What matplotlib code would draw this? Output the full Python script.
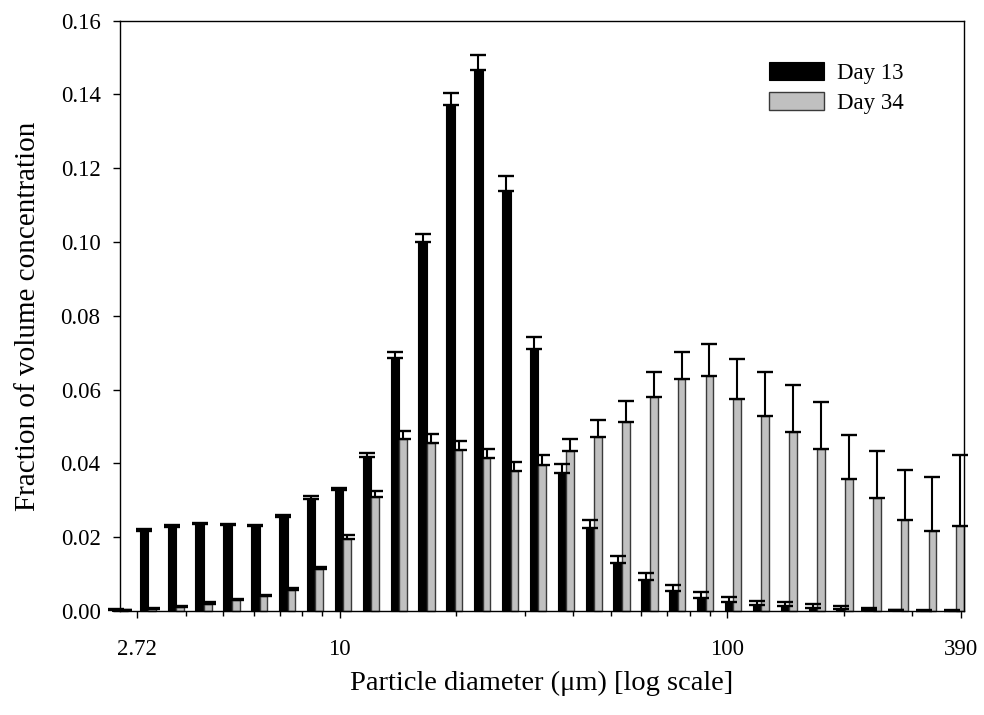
import numpy as np
import matplotlib
matplotlib.use("Agg")
import matplotlib.pyplot as plt
from matplotlib.ticker import FixedLocator, NullFormatter

# LISST size bins (geometric centres, um)
bins = 2.5 * (200 ** (1 / 32)) ** (np.arange(31) + 0.5)

day13 = [0.0003, 0.0218, 0.0229, 0.0236, 0.0234, 0.0231, 0.0255, 0.0304, 0.0328, 0.0418,
         0.0685, 0.1001, 0.1372, 0.1466, 0.1139, 0.0711, 0.0375, 0.0225, 0.0131, 0.0084,
         0.0054, 0.0036, 0.0024, 0.0015, 0.0014, 0.0009, 0.0005, 0.0004, 0.0002, 0.0001, 0.0001]
day13_err = [0.0003, 0.0004, 0.0003, 0.0003, 0.0003, 0.0003, 0.0004, 0.0008, 0.0006, 0.0010,
             0.0016, 0.0022, 0.0032, 0.0040, 0.0039, 0.0032, 0.0024, 0.0021, 0.0019, 0.0018,
             0.0016, 0.0015, 0.0015, 0.0013, 0.0011, 0.0010, 0.0009, 0.0005, 0.0002, 0.0001, 0.0001]
day34 = [0.0002, 0.0005, 0.0012, 0.0020, 0.0030, 0.0040, 0.0057, 0.0113, 0.0196, 0.0310,
         0.0465, 0.0456, 0.0436, 0.0415, 0.0380, 0.0397, 0.0433, 0.0471, 0.0512, 0.0579,
         0.0629, 0.0638, 0.0575, 0.0529, 0.0486, 0.0438, 0.0359, 0.0307, 0.0247, 0.0217, 0.0230]
day34_err = [0.0002, 0.0004, 0.0002, 0.0004, 0.0003, 0.0003, 0.0005, 0.0006, 0.0010, 0.0016,
             0.0024, 0.0024, 0.0026, 0.0024, 0.0024, 0.0027, 0.0034, 0.0046, 0.0057, 0.0069,
             0.0072, 0.0086, 0.0107, 0.0120, 0.0126, 0.0128, 0.0118, 0.0128, 0.0134, 0.0147, 0.0192]

xtick_pos = [3, 10, 100, 400]
xtick_labels = ["2.72", "10", "100", "390"]

plt.rcParams['font.family'] = ['Liberation Serif', 'DejaVu Serif']

fig = plt.figure(figsize=(9.84, 7.15), dpi=100)
ax = fig.add_axes([120 / 984, 104 / 715, 844 / 984, 590.3 / 715])

px_per_dec = 387.3
db = 10 ** (8.5 / px_per_dec)
dg = 10 ** (7.7 / px_per_dec)

left_b = bins / db
ax.bar(left_b, day13, width=bins - left_b, align='edge', color='black',
       edgecolor='black', linewidth=0.8, label='Day 13', clip_on=False, zorder=2)
ax.bar(bins, day34, width=bins * (dg - 1), align='edge', color='#c0c0c0',
       edgecolor='#3a3a3a', linewidth=1.0, label='Day 34', clip_on=False, zorder=2)

cb = np.sqrt(left_b * bins)
cg = bins * np.sqrt(dg)
z = np.zeros(len(bins))
ax.errorbar(cb, day13, yerr=[z, day13_err], fmt='none', ecolor='black',
            elinewidth=1.5, capsize=6, capthick=1.7, clip_on=False, zorder=3)
ax.errorbar(cg, day34, yerr=[z, day34_err], fmt='none', ecolor='black',
            elinewidth=1.5, capsize=6, capthick=1.7, clip_on=False, zorder=3)

ax.set_xscale('log')
ax.set_xlim(2.71, 408)
ax.set_ylim(0, 0.16)
ax.xaxis.set_major_locator(FixedLocator(xtick_pos))
ax.set_xticklabels(xtick_labels)
minor = [4, 5, 6, 7, 8, 9, 20, 30, 40, 50, 60, 70, 80, 90, 200, 300]
ax.xaxis.set_minor_locator(FixedLocator(minor))
ax.xaxis.set_minor_formatter(NullFormatter())
ax.set_yticks(np.arange(0, 0.161, 0.02))
ax.set_yticklabels(["%.2f" % v for v in np.arange(0, 0.161, 0.02)])

ax.tick_params(axis='both', which='major', direction='out', length=5, width=1,
               labelsize=16.5)
ax.tick_params(axis='x', which='major', pad=15)
ax.tick_params(axis='x', which='minor', direction='out', length=3.5, width=1)
ax.tick_params(axis='y', which='major', pad=9)
for s in ax.spines.values():
    s.set_linewidth(1.0)

ax.set_xlabel('Particle diameter (\u03bcm) [log scale]', fontsize=20.5, labelpad=8)
ax.set_ylabel('Fraction of volume concentration', fontsize=21, labelpad=14)

ax.legend(loc='upper left', bbox_to_anchor=(769 / 984, 1 - 62 / 715),
          bbox_transform=fig.transFigure, frameon=False, fontsize=16.5,
          handlelength=2.4, handleheight=0.8, handletextpad=0.55,
          labelspacing=0.38, borderpad=0, borderaxespad=0)

fig.savefig('out.png', dpi=100)
